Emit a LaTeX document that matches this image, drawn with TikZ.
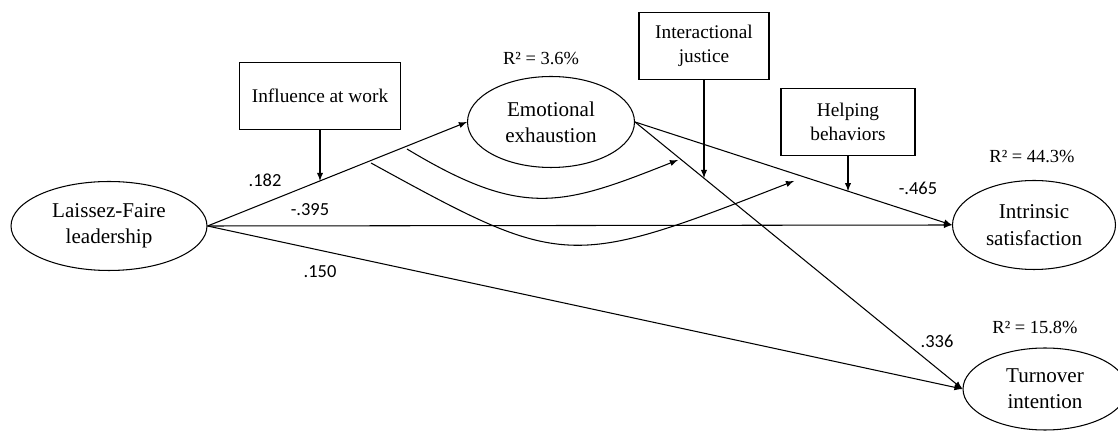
\documentclass[tikz,border=0pt]{standalone}
\usepackage{fontspec}
\setmainfont{Liberation Serif}
\newfontfamily\numfont{Carlito}
\usepackage{tikz}
\usetikzlibrary{shapes.geometric,positioning}
\tikzset{>=latex}
\tikzstyle{latent}=[ellipse,draw,align=center,inner sep=0pt,
  font=\fontsize{12}{15}\selectfont]
\tikzstyle{moder}=[rectangle,draw,align=center,minimum height=1.34cm,
  font=\fontsize{11}{13.5}\selectfont]
\tikzstyle{coef}=[font=\numfont\fontsize{10.5}{12}\selectfont]
\tikzstyle{rsq}=[font=\fontsize{10.5}{12}\selectfont]

\begin{document}
\begin{tikzpicture}[x=0.02cm,y=-0.02cm,line width=0.6pt]
  \useasboundingbox (0,0) rectangle (1118,431);

  % latent variables
  \path (109,226) node (lf) [latent,minimum width=3.92cm,minimum height=1.78cm] {Laissez-Faire\\leadership};
  \path (551,122) node (ee) [latent,minimum width=3.34cm,minimum height=1.82cm] {Emotional\\exhaustion};
  \path (1034,225) node (is) [latent,minimum width=3.26cm,minimum height=1.78cm] {Intrinsic\\satisfaction};
  \path (1045,389) node (ti) [latent,minimum width=3.28cm,minimum height=1.64cm] {Turnover\\intention};

  % moderators
  \path (320,96) node (infl) [moder,minimum width=3.22cm] {Influence at work};
  \path (704,46) node (ij) [moder,minimum width=2.6cm] {Interactional\\justice};
  \path (848,122) node (hb) [moder,minimum width=2.68cm] {Helping\\behaviors};

  % direct paths
  \draw[->] (lf.east) -- coordinate[pos=0.433] (mi) (ee.west);
  \draw[->] (lf.east) -- (is.west);
  \draw[->] (lf.east) -- (ti.west);
  \draw[->] (ee.east) -- coordinate[pos=0.672] (mh) (is.west);
  \draw[->] (ee.east) -- coordinate[pos=0.21] (mj) (ti.west);

  % moderation
  \draw[->] (infl.south) -- (infl.south |- mi);
  \draw[->] (ij.south) -- (ij.south |- mj);
  \draw[->] (hb.south) -- (hb.south |- mh);

  % indirect effects
  \coordinate (c1a) at (407,149);
  \coordinate (c1b) at (678,160);
  \coordinate (c2a) at (371,163);
  \coordinate (c2b) at (794,181);
  \draw[->] (c1a) .. controls (523,219) and (562,206) .. (c1b);
  \draw[->] (c2a) .. controls (564,269) and (568,269) .. (c2b);

  % coefficients
  \path (265,180) node (k1) [coef] {.182};
  \path (310,210) node (k2) [coef] {-.395};
  \path (320,272) node (k3) [coef] {.150};
  \path (918,188) node (k4) [coef] {-.465};
  \path (937,341) node (k5) [coef] {.336};

  \path (541,59) node (r1) [rsq] {R² = 3.6\%};
  \path (1032,157) node (r2) [rsq] {R² = 44.3\%};
  \path (1035,328) node (r3) [rsq] {R² = 15.8\%};

\end{tikzpicture}
\end{document}
